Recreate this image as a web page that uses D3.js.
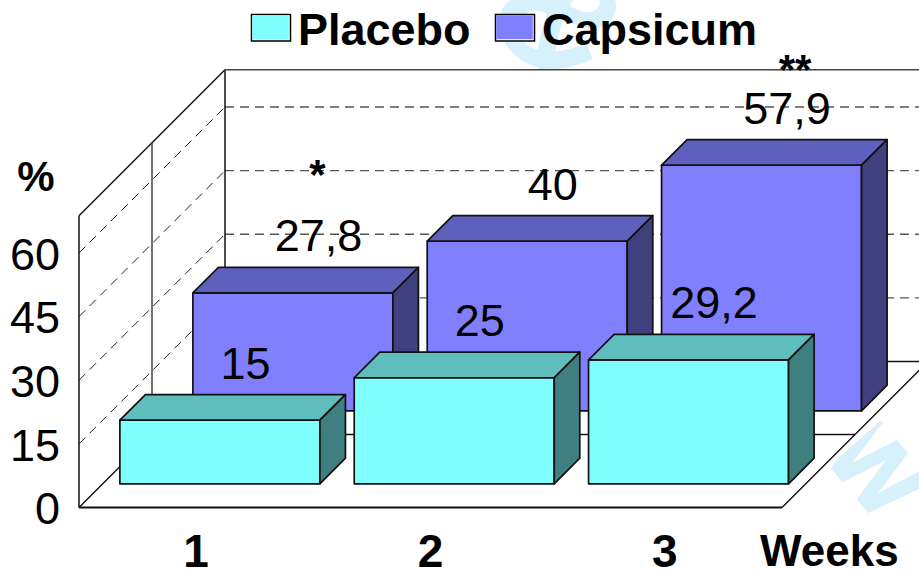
<!DOCTYPE html>
<html>
<head>
<meta charset="utf-8">
<style>
html,body{margin:0;padding:0;background:#fff;}
svg{display:block;}
text{font-family:"Liberation Sans",Arial,sans-serif;fill:#000;}
</style>
<script src="https://cdn.jsdelivr.net/npm/d3@7/dist/d3.min.js"></script>
</head>
<body>
<svg id="chart" width="919" height="572"></svg>
<script>
const weeks = ["1", "2", "3"];
const seriesNames = ["Placebo", "Capsicum"];
const placebo = [15, 25, 29.2];
const capsicum = [27.8, 40, 57.9];
const placeboLabels = ["15", "25", "29,2"];
const capsicumLabels = ["27,8", "40", "57,9"];
const capsicumMarks = ["*", "", "**"];
const yTicks = [0, 15, 30, 45, 60];
const wallTop = 68.8;

const svg = d3.select("#chart");
const x = d3.scaleBand().domain(weeks).range([79, 782]).paddingInner(0.1465).paddingOuter(0.07325);
const y = d3.scaleLinear().domain([0, 60]).range([507.5, 253]);
const z = d3.scaleBand().domain(seriesNames).range([0, 146]).paddingInner(0.65).paddingOuter(0.325);
const depth = z.range()[1];
const pts = a => a.map(p => p.join(",")).join(" ");
const colors = {
  Placebo: {front: "#80ffff", top: "#5fbdbd", side: "#407f7f"},
  Capsicum: {front: "#8080ff", top: "#5f5fbd", side: "#40407f"}
};

// watermark, sits under the white plot box
const wm = svg.append("g").attr("class", "watermark");
wm.append("text").text("&").attr("transform", "translate(482,14) rotate(50)")
  .attr("font-size", 165).attr("font-weight", "bold").style("fill", "#d6f0fc");
wm.append("text").text("W").attr("transform", "translate(821,455) rotate(50)")
  .attr("font-size", 97).attr("font-weight", "bold").style("fill", "#d6f0fc")
  .style("stroke", "#d6f0fc").style("stroke-width", 2);

// walls and floor
const x0 = x.range()[0], x1 = x.range()[1], right = x1 + depth;
const yb = y(0), yt = y(wallTop);
const plot = svg.append("g");
plot.append("polygon").attr("points", pts([[x0, yb], [x0, yt], [x0 + depth, yt - depth], [right + 20, yt - depth], [right + 20, yb - depth], [x1, yb]])).attr("fill", "#fff");

const grid = plot.append("g").attr("fill", "none");
yTicks.slice(1).forEach(t => {
  grid.append("line").attr("x1", x0).attr("y1", y(t)).attr("x2", x0 + depth).attr("y2", y(t) - depth)
    .attr("stroke", "#222").attr("stroke-width", 1).attr("stroke-dasharray", "9,6");
  grid.append("line").attr("x1", x0 + depth).attr("y1", y(t) - depth).attr("x2", 925).attr("y2", y(t) - depth)
    .attr("stroke", "#555").attr("stroke-width", 1.3).attr("stroke-dasharray", "9,6");
});

const frame = plot.append("g").attr("fill", "none").attr("stroke", "#111").attr("stroke-width", 1.5);
frame.append("line").attr("x1", x0).attr("y1", yb).attr("x2", x0).attr("y2", yt);
frame.append("line").attr("x1", x0).attr("y1", yt).attr("x2", x0 + depth).attr("y2", yt - depth);
frame.append("line").attr("x1", x0 + depth).attr("y1", yt - depth).attr("x2", x0 + depth).attr("y2", yb - depth);
frame.append("line").attr("x1", x0 + depth).attr("y1", yt - depth).attr("x2", 925).attr("y2", yt - depth).attr("stroke", "#444");
frame.append("line").attr("x1", x0 + depth / 2).attr("y1", yt - depth / 2).attr("x2", x0 + depth / 2).attr("y2", yb - depth / 2).attr("stroke", "#444");
frame.append("line").attr("x1", x0).attr("y1", yb).attr("x2", x1).attr("y2", yb).attr("stroke-width", 2);
frame.append("line").attr("x1", x0).attr("y1", yb).attr("x2", x0 + depth).attr("y2", yb - depth);
frame.append("line").attr("x1", x1).attr("y1", yb).attr("x2", right).attr("y2", yb - depth);
frame.append("line").attr("x1", x0 + depth / 2).attr("y1", yb - depth / 2).attr("x2", x1 + depth / 2).attr("y2", yb - depth / 2);
frame.append("line").attr("x1", x0 + depth).attr("y1", yb - depth).attr("x2", 925).attr("y2", yb - depth);

// bars, back series first
function drawSeries(name, values) {
  const d = z.bandwidth(), off = z(name), c = colors[name], w = x.bandwidth();
  const g = svg.append("g").attr("class", "series-" + name)
    .attr("stroke", "#111").attr("stroke-width", 1.7).attr("stroke-linejoin", "round");
  const bars = g.selectAll("g").data(values).join("g");
  const L = (d2, i) => x(weeks[i]) + off;
  const B = () => yb - off;
  const T = v => y(v) - off;
  bars.append("rect").attr("x", L).attr("y", v => T(v)).attr("width", w).attr("height", v => B() - T(v)).attr("fill", c.front);
  bars.append("polygon").attr("fill", c.top).attr("points", (v, i) => {
    const l = L(v, i), t = T(v);
    return pts([[l, t], [l + d, t - d], [l + w + d, t - d], [l + w, t]]);
  });
  bars.append("polygon").attr("fill", c.side).attr("points", (v, i) => {
    const l = L(v, i) + w, t = T(v), b = B();
    return pts([[l, t], [l + d, t - d], [l + d, b - d], [l, b]]);
  });
}
drawSeries("Capsicum", capsicum);
drawSeries("Placebo", placebo);

// axes
const yAxis = svg.append("g").attr("transform", "translate(59,0)")
  .call(d3.axisLeft(y).tickValues(yTicks).tickSize(0).tickPadding(0));
yAxis.select(".domain").remove();
yAxis.selectAll("text").attr("font-size", 45).attr("x", 1).attr("dy", "0.36em").style("font-family", '"Liberation Sans",Arial,sans-serif');

const xAxis = svg.append("g").attr("transform", "translate(0,567)")
  .call(d3.axisBottom(x).tickSize(0).tickPadding(0));
xAxis.select(".domain").remove();
xAxis.selectAll("text").attr("font-size", 46).attr("font-weight", "bold").attr("y", 0).attr("dy", 0).style("font-family", '"Liberation Sans",Arial,sans-serif');

svg.append("text").text("%").attr("x", 36).attr("y", 191).attr("text-anchor", "middle").attr("font-size", 42).attr("font-weight", "bold");
svg.append("text").text("Weeks").attr("x", 760).attr("y", 566).attr("font-size", 44).attr("font-weight", "bold");

// value labels
function drawLabels(name, values, labels) {
  const w = x.bandwidth();
  svg.append("g").attr("text-anchor", "middle").attr("font-size", 45).selectAll("text").data(values).join("text")
    .attr("x", (v, i) => x(weeks[i]) + z(name) + w / 2 + z.bandwidth())
    .attr("y", v => y(v) - z(name) - z.bandwidth() - 16)
    .text((v, i) => labels[i]);
}
drawLabels("Capsicum", capsicum, capsicumLabels);
drawLabels("Placebo", placebo, placeboLabels);

// significance marks: the first sits higher above its label than the last
const markShift = [{dx: -1, dy: -62}, {dx: 0, dy: 0}, {dx: 8, dy: -40}];
svg.append("g").attr("text-anchor", "middle").attr("font-size", 42).attr("font-weight", "bold")
  .selectAll("text").data(capsicum).join("text")
  .attr("x", (v, i) => x(weeks[i]) + z("Capsicum") + x.bandwidth() / 2 + z.bandwidth() + markShift[i].dx)
  .attr("y", (v, i) => y(v) - z("Capsicum") - z.bandwidth() - 16 + markShift[i].dy)
  .text((v, i) => capsicumMarks[i]);

// legend
const legendX = [251, 495];
const legend = svg.append("g").selectAll("g").data(seriesNames).join("g")
  .attr("transform", (d, i) => `translate(${legendX[i]},14)`);
legend.append("rect").attr("x", 0.5).attr("y", 0.5).attr("width", 39).attr("height", 26.5).attr("fill", "#fff").attr("stroke", "#000").attr("stroke-width", 1.5);
legend.append("rect").attr("x", 1.2).attr("y", 1.2).attr("width", 36.6).attr("height", 24).attr("fill", d => colors[d].front);
legend.append("text").text(d => d).attr("x", 47).attr("y", 31).attr("font-size", 45).attr("font-weight", "bold");
</script>
</body>
</html>
